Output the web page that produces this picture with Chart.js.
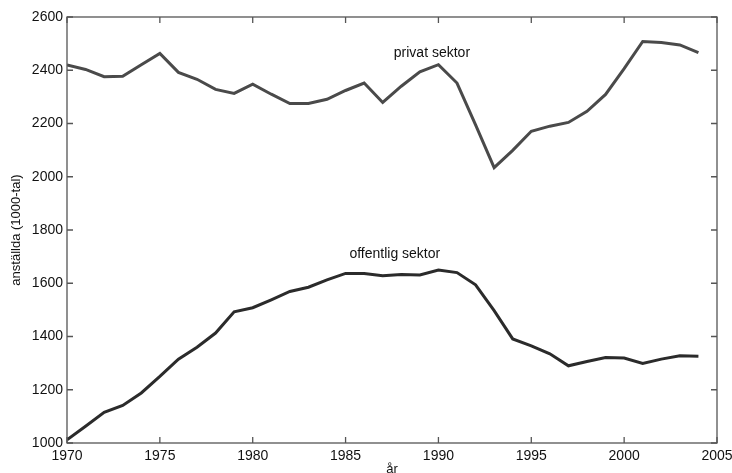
<!DOCTYPE html>
<html>
<head>
<meta charset="utf-8">
<script src="https://cdn.jsdelivr.net/npm/chart.js@4/dist/chart.umd.min.js"></script>
<style>
  html,body{margin:0;padding:0;background:#fff;}
  #wrap{width:732px;height:473px;}
</style>
</head>
<body>
<div id="wrap"><canvas id="c" width="732" height="473"></canvas></div>
<script>
// år 1970-2004
const years = [1970,1971,1972,1973,1974,1975,1976,1977,1978,1979,1980,1981,1982,1983,1984,1985,1986,1987,
  1988,1989,1990,1991,1992,1993,1994,1995,1996,1997,1998,1999,2000,2001,2002,2003,2004];
const privat = [2420,2403,2376,2377,2421,2463,2392,2366,2328,2313,2348,2310,2275,2275,2291,2324,2352,2279,
  2340,2394,2421,2352,2195,2034,2099,2171,2190,2204,2246,2309,2406,2508,2504,2495,2466];
const offentlig = [1012,1063,1115,1141,1188,1250,1315,1360,1413,1493,1508,1538,1569,1585,1613,1637,1637,1628,
  1633,1631,1650,1640,1594,1497,1391,1365,1335,1290,1306,1321,1319,1299,1315,1328,1326];
const xTicks = [1970,1975,1980,1985,1990,1995,2000,2005];
const yTicks = [1000,1200,1400,1600,1800,2000,2200,2400,2600];
const labels = [
  {text:'privat sektor', x:1989.65, y:2466},
  {text:'offentlig sektor', x:1987.65, y:1711}
];

const FONT = 'Liberation Sans, Arial, sans-serif';

// ram + inåtriktade ticks (matlab-stil) och etiketter
const boxPlugin = {
  id:'box',
  afterDatasetsDraw(chart){
    const {ctx, chartArea:a, scales:{x,y}} = chart;
    ctx.save();
    ctx.strokeStyle = '#555';
    ctx.lineWidth = 1.3;
    ctx.strokeRect(a.left, a.top, a.right-a.left, a.bottom-a.top);
    const t = 6;
    ctx.beginPath();
    xTicks.forEach(v=>{
      const px = x.getPixelForValue(v);
      ctx.moveTo(px,a.bottom); ctx.lineTo(px,a.bottom-t);
      ctx.moveTo(px,a.top); ctx.lineTo(px,a.top+t);
    });
    yTicks.forEach(v=>{
      const py = y.getPixelForValue(v);
      ctx.moveTo(a.left,py); ctx.lineTo(a.left+t,py);
      ctx.moveTo(a.right,py); ctx.lineTo(a.right-t,py);
    });
    ctx.stroke();
    ctx.fillStyle = '#111';
    ctx.font = '14px ' + FONT;
    ctx.textAlign = 'center';
    ctx.textBaseline = 'middle';
    labels.forEach(l=>{
      ctx.fillText(l.text, x.getPixelForValue(l.x), y.getPixelForValue(l.y));
    });
    ctx.restore();
  }
};

new Chart(document.getElementById('c'), {
  type:'line',
  data:{
    datasets:[
      { label:'privat sektor', data: years.map((yr,i)=>({x:yr, y:privat[i]})),
        borderColor:'#4a4a4a', borderWidth:3, pointRadius:0, tension:0, fill:false },
      { label:'offentlig sektor', data: years.map((yr,i)=>({x:yr, y:offentlig[i]})),
        borderColor:'#2b2b2b', borderWidth:3, pointRadius:0, tension:0, fill:false }
    ]
  },
  options:{
    responsive:false,
    animation:false,
    layout:{ padding:{ top:17, right:15, left:0, bottom:0 } },
    plugins:{ legend:{display:false}, tooltip:{enabled:false} },
    scales:{
      x:{
        type:'linear', min:1970, max:2005,
        afterBuildTicks(s){ s.ticks = xTicks.map(v=>({value:v})); },
        afterFit(s){ s.height = 30; s.paddingLeft = 0; s.paddingRight = 0; },
        grid:{ display:false, drawTicks:false },
        border:{ display:false },
        ticks:{ color:'#111', font:{family:FONT, size:14}, padding:5, maxRotation:0,
          callback:v=>String(v) },
        title:{ display:true, text:'år', color:'#111', font:{family:FONT, size:13}, padding:{top:0,bottom:-4} }
      },
      y:{
        min:1000, max:2600,
        afterBuildTicks(s){ s.ticks = yTicks.map(v=>({value:v})); },
        afterFit(s){ s.width = 67; },
        grid:{ display:false, drawTicks:false },
        border:{ display:false },
        ticks:{ color:'#111', font:{family:FONT, size:14}, padding:4, callback:v=>String(v) },
        title:{ display:true, text:'anställda (1000-tal)', color:'#111', font:{family:FONT, size:13}, padding:{top:9,bottom:0} }
      }
    }
  },
  plugins:[boxPlugin]
});
</script>
</body>
</html>
